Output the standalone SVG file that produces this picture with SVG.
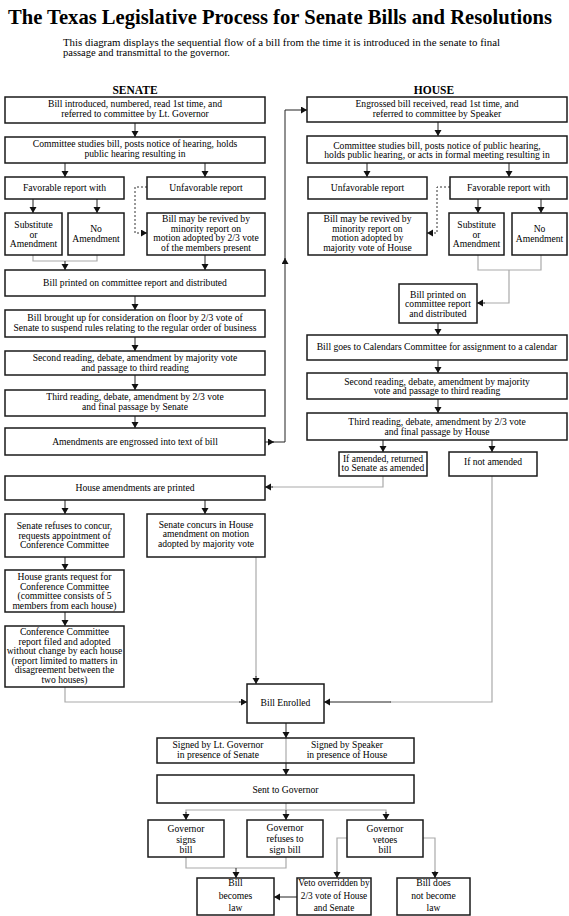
<svg xmlns="http://www.w3.org/2000/svg" width="569" height="916" viewBox="0 0 569 916">
<style>
.box{fill:#fff;stroke:#1a1a1a;stroke-width:1.5}
.t{font-family:"Liberation Serif","Times New Roman",serif;font-size:9.6px;text-anchor:middle;fill:#000}
.t.s{font-size:9.3px}
.h{font-family:"Liberation Serif","Times New Roman",serif;font-weight:bold;font-size:11.5px;text-anchor:middle;fill:#000}
.c{stroke:#222;stroke-width:1;fill:none}
.g{stroke:#aaa;stroke-width:1.2;fill:none}
.d{stroke:#333;stroke-width:1;fill:none;stroke-dasharray:2,2}
</style>
<defs>
<marker id="a" markerUnits="userSpaceOnUse" markerWidth="8" markerHeight="8" refX="6" refY="3.5" orient="auto"><path d="M0,0 L6,3.5 L0,7 z" fill="#111"/></marker>
</defs>
<rect width="569" height="916" fill="#fff"/>
<text x="8" y="24" font-family="'Liberation Serif',serif" font-weight="bold" font-size="21" textLength="544" lengthAdjust="spacingAndGlyphs" fill="#000">The Texas Legislative Process for Senate Bills and Resolutions</text>
<text x="63" y="46" font-family="'Liberation Serif',serif" font-size="10" textLength="437" lengthAdjust="spacingAndGlyphs" fill="#000">This diagram displays the sequential flow of a bill from the time it is introduced in the senate to final</text>
<text x="63" y="56" font-family="'Liberation Serif',serif" font-size="10" textLength="167" lengthAdjust="spacingAndGlyphs" fill="#000">passage and transmittal to the governor.</text>
<text class="h" x="135" y="94">SENATE</text>
<text class="h" x="434" y="94">HOUSE</text>

<g id="connectors">
<path class="c" d="M135,123 V137" marker-end="url(#a)"/>
<path class="c" d="M65,163 V177" marker-end="url(#a)"/>
<path class="c" d="M205,163 V177" marker-end="url(#a)"/>
<path class="c" d="M33,199 V213" marker-end="url(#a)"/>
<path class="c" d="M97,199 V213" marker-end="url(#a)"/>
<path class="d" d="M147,187 H135 V233 H147" marker-end="url(#a)"/>
<path class="g" d="M33,255 V261 H97 V255"/>
<path class="c" d="M65,261 V270" marker-end="url(#a)"/>
<path class="c" d="M205,255 V270" marker-end="url(#a)"/>
<path class="c" d="M135,296 V310" marker-end="url(#a)"/>
<path class="c" d="M135,337 V351" marker-end="url(#a)"/>
<path class="c" d="M135,375 V390" marker-end="url(#a)"/>
<path class="c" d="M135,416 V428" marker-end="url(#a)"/>
<path class="c" d="M265,442 H274" marker-end="url(#a)"/>
<path class="c" d="M273,442 H285 V258" marker-end="url(#a)"/>
<path class="c" d="M285,259 V110 H307" marker-end="url(#a)"/>
<path class="c" d="M438,122 V136" marker-end="url(#a)"/>
<path class="c" d="M367,163 V177" marker-end="url(#a)"/>
<path class="c" d="M509,163 V177" marker-end="url(#a)"/>
<path class="d" d="M450,187 H437 V233 H427" marker-end="url(#a)"/>
<path class="c" d="M478,199 V213" marker-end="url(#a)"/>
<path class="c" d="M541,199 V213" marker-end="url(#a)"/>
<path class="g" d="M478,255 V270 H541 V255 M509,270 V303 H484"/>
<path class="c" d="M485,303 H477" marker-end="url(#a)"/>
<path class="c" d="M438,323 V335" marker-end="url(#a)"/>
<path class="c" d="M438,360 V373" marker-end="url(#a)"/>
<path class="c" d="M438,399 V413" marker-end="url(#a)"/>
<path class="c" d="M383,440 V452" marker-end="url(#a)"/>
<path class="c" d="M492,440 V452" marker-end="url(#a)"/>
<path class="g" d="M383,476 V487 H272"/>
<path class="c" d="M273,487 H265" marker-end="url(#a)"/>
<path class="c" d="M65,500 V514" marker-end="url(#a)"/>
<path class="c" d="M205,500 V514" marker-end="url(#a)"/>
<path class="c" d="M65,557 V570" marker-end="url(#a)"/>
<path class="c" d="M65,612 V626" marker-end="url(#a)"/>
<path class="g" d="M65,687 V702 H240"/>
<path class="c" d="M239,702 H247" marker-end="url(#a)"/>
<path class="g" d="M256,557 V677"/>
<path class="c" d="M256,676 V684" marker-end="url(#a)"/>
<path class="g" d="M492,476 V702 H390"/>
<path class="c" d="M391,702 H324" marker-end="url(#a)"/>
<path class="c" d="M286,723 V738" marker-end="url(#a)"/>
<path class="g" d="M286,738 V763"/>
<path class="c" d="M286,763 V775" marker-end="url(#a)"/>
<path class="g" d="M286,803 V810 M186,813 V810 H386 V813"/>
<path class="c" d="M186,812 V820" marker-end="url(#a)"/>
<path class="c" d="M286,810 V820" marker-end="url(#a)"/>
<path class="c" d="M386,812 V820" marker-end="url(#a)"/>
<path class="g" d="M186,857 V868 H286 V857"/>
<path class="c" d="M236,868 V878" marker-end="url(#a)"/>
<path class="g" d="M347,838 H337 V872"/>
<path class="c" d="M337,871 V878" marker-end="url(#a)"/>
<path class="g" d="M423,838 H435 V872"/>
<path class="c" d="M435,871 V878" marker-end="url(#a)"/>
<path class="c" d="M297,897 H274" marker-end="url(#a)"/>
</g>

<g id="s1"><rect class="box" x="5" y="97" width="260" height="26"/><text class="t" x="135" y="107">Bill introduced, numbered, read 1st time, and</text><text class="t" x="135" y="117">referred to committee by Lt. Governor</text></g>
<g id="s2"><rect class="box" x="5" y="137" width="260" height="26"/><text class="t" x="135" y="147">Committee studies bill, posts notice of hearing, holds</text><text class="t" x="135" y="157">public hearing resulting in</text></g>
<g id="s3"><rect class="box" x="5" y="177" width="119" height="22"/><text class="t" x="64.5" y="191">Favorable report with</text></g>
<g id="s4"><rect class="box" x="147" y="177" width="118" height="22"/><text class="t" x="206" y="191">Unfavorable report</text></g>
<g id="s5"><rect class="box" x="5" y="213" width="57" height="42"/><text class="t" x="33.5" y="228">Substitute</text><text class="t" x="33.5" y="237.5">or</text><text class="t" x="33.5" y="247">Amendment</text></g>
<g id="s6"><rect class="box" x="68" y="213" width="56" height="42"/><text class="t" x="96" y="232">No</text><text class="t" x="96" y="242">Amendment</text></g>
<g id="s7"><rect class="box" x="147" y="213" width="118" height="42"/><text class="t" x="206" y="222">Bill may be revived by</text><text class="t" x="206" y="231.5">minority report on</text><text class="t" x="206" y="241">motion adopted by 2/3 vote</text><text class="t" x="206" y="250.5">of the members present</text></g>
<g id="s8"><rect class="box" x="5" y="270" width="260" height="26"/><text class="t" x="135" y="286">Bill printed on committee report and distributed</text></g>
<g id="s9"><rect class="box" x="5" y="310" width="260" height="27"/><text class="t" x="135" y="321">Bill brought up for consideration on floor by 2/3 vote of</text><text class="t" x="135" y="331">Senate to suspend rules relating to the regular order of business</text></g>
<g id="s10"><rect class="box" x="5" y="351" width="260" height="24"/><text class="t" x="135" y="361">Second reading, debate, amendment by majority vote</text><text class="t" x="135" y="371">and passage to third reading</text></g>
<g id="s11"><rect class="box" x="5" y="390" width="260" height="26"/><text class="t" x="135" y="400">Third reading, debate, amendment by 2/3 vote</text><text class="t" x="135" y="410">and final passage by Senate</text></g>
<g id="s12"><rect class="box" x="5" y="428" width="260" height="27"/><text class="t" x="135" y="445">Amendments are engrossed into text of bill</text></g>
<g id="s13"><rect class="box" x="5" y="476" width="260" height="24"/><text class="t" x="135" y="491">House amendments are printed</text></g>
<g id="s14"><rect class="box" x="5" y="514" width="119" height="43"/><text class="t" x="64.5" y="529">Senate refuses to concur,</text><text class="t" x="64.5" y="538.5">requests appointment of</text><text class="t" x="64.5" y="548">Conference Committee</text></g>
<g id="s15"><rect class="box" x="147" y="514" width="118" height="43"/><text class="t" x="206" y="527.5">Senate concurs in House</text><text class="t" x="206" y="537">amendment on motion</text><text class="t" x="206" y="546.5">adopted by majority vote</text></g>
<g id="s16"><rect class="box" x="5" y="570" width="119" height="42"/><text class="t" x="64.5" y="580">House grants request for</text><text class="t" x="64.5" y="589.5">Conference Committee</text><text class="t" x="64.5" y="599">(committee consists of 5</text><text class="t" x="64.5" y="608.5">members from each house)</text></g>
<g id="s17"><rect class="box" x="5" y="626" width="119" height="61"/><text class="t" x="64.5" y="635">Conference Committee</text><text class="t" x="64.5" y="644.5">report filed and adopted</text><text class="t" x="64.5" y="654">without change by each house</text><text class="t" x="64.5" y="663.5">(report limited to matters in</text><text class="t" x="64.5" y="673">disagreement between the</text><text class="t" x="64.5" y="682.5">two houses)</text></g>

<g id="h1"><rect class="box" x="307" y="97" width="260" height="25"/><text class="t" x="437" y="107">Engrossed bill received, read 1st time, and</text><text class="t" x="437" y="116.5">referred to committee by Speaker</text></g>
<g id="h2"><rect class="box" x="307" y="136" width="260" height="27"/><text class="t" x="437" y="148.5">Committee studies bill, posts notice of public hearing,</text><text class="t" x="437" y="158">holds public hearing, or acts in formal meeting resulting in</text></g>
<g id="h3"><rect class="box" x="308" y="177" width="119" height="22"/><text class="t" x="367.5" y="191">Unfavorable report</text></g>
<g id="h4"><rect class="box" x="450" y="177" width="117" height="22"/><text class="t" x="508.5" y="191">Favorable report with</text></g>
<g id="h5"><rect class="box" x="308" y="213" width="119" height="42"/><text class="t" x="367.5" y="222">Bill may be revived by</text><text class="t" x="367.5" y="231.5">minority  report  on</text><text class="t" x="367.5" y="241">motion adopted by</text><text class="t" x="367.5" y="250.5">majority vote of  House</text></g>
<g id="h6"><rect class="box" x="449" y="213" width="55" height="42"/><text class="t" x="476.5" y="228">Substitute</text><text class="t" x="476.5" y="237.5">or</text><text class="t" x="476.5" y="247">Amendment</text></g>
<g id="h7"><rect class="box" x="512" y="213" width="55" height="42"/><text class="t" x="539.5" y="232">No</text><text class="t" x="539.5" y="241.5">Amendment</text></g>
<g id="h8"><rect class="box" x="399" y="284" width="78" height="39"/><text class="t" x="438" y="297.5">Bill printed on</text><text class="t" x="438" y="307">committee report</text><text class="t" x="438" y="316.5">and distributed</text></g>
<g id="h9"><rect class="box" x="307" y="335" width="260" height="25"/><text class="t" x="437" y="350">Bill goes to Calendars Committee for assignment to a calendar</text></g>
<g id="h10"><rect class="box" x="307" y="373" width="260" height="26"/><text class="t" x="437" y="384.5">Second reading, debate, amendment by majority</text><text class="t" x="437" y="394">vote and passage to third reading</text></g>
<g id="h11"><rect class="box" x="307" y="413" width="260" height="27"/><text class="t" x="437" y="425">Third reading, debate, amendment by 2/3 vote</text><text class="t" x="437" y="434.5">and final passage by House</text></g>
<g id="h12"><rect class="box" x="339" y="452" width="88" height="24"/><text class="t" x="383" y="461.5">If amended, returned</text><text class="t" x="383" y="471">to Senate as amended</text></g>
<g id="h13"><rect class="box" x="449" y="452" width="88" height="24"/><text class="t" x="493" y="465">If not amended</text></g>

<g id="e1"><rect class="box" x="247" y="684" width="77" height="39"/><text class="t" x="285.5" y="706">Bill Enrolled</text></g>
<g id="e2"><rect class="box" x="157" y="738" width="257" height="25" style="fill:none"/><text class="t" x="218" y="748">Signed by Lt. Governor</text><text class="t" x="218" y="757.5">in presence of Senate</text><text class="t" x="347" y="748">Signed by Speaker</text><text class="t" x="347" y="757.5">in presence of House</text></g>
<g id="e3"><rect class="box" x="157" y="775" width="257" height="28"/><text class="t" x="285.5" y="793">Sent to Governor</text></g>
<g id="e4"><rect class="box" x="148" y="820" width="76" height="37"/><text class="t" x="186" y="832">Governor</text><text class="t" x="186" y="842.5">signs</text><text class="t" x="186" y="853">bill</text></g>
<g id="e5"><rect class="box" x="247" y="820" width="76" height="37"/><text class="t" x="285" y="831">Governor</text><text class="t" x="285" y="842">refuses to</text><text class="t" x="285" y="853">sign bill</text></g>
<g id="e6"><rect class="box" x="347" y="820" width="76" height="37"/><text class="t" x="385" y="832">Governor</text><text class="t" x="385" y="842.5">vetoes</text><text class="t" x="385" y="853">bill</text></g>
<g id="e7"><rect class="box" x="197" y="878" width="77" height="37"/><text class="t" x="235.5" y="886">Bill</text><text class="t" x="235.5" y="898.5">becomes</text><text class="t" x="235.5" y="911">law</text></g>
<g id="e8"><rect class="box" x="297" y="878" width="74" height="37"/><text class="t s" x="334" y="886">Veto overridden by</text><text class="t s" x="334" y="898.5">2/3 vote of House</text><text class="t s" x="334" y="911">and Senate</text></g>
<g id="e9"><rect class="box" x="397" y="878" width="73" height="37"/><text class="t" x="433.5" y="886">Bill does</text><text class="t" x="433.5" y="898.5">not become</text><text class="t" x="433.5" y="911">law</text></g>
</svg>
